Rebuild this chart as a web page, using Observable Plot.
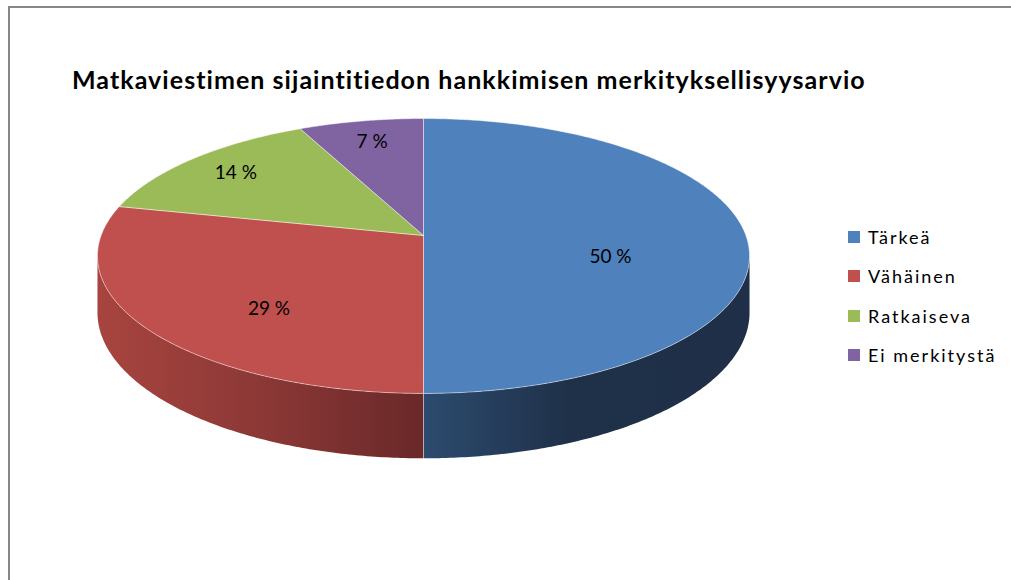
<!DOCTYPE html>
<html><head><meta charset="utf-8">
<script src="https://cdn.jsdelivr.net/npm/d3@7"></script>
<script src="https://cdn.jsdelivr.net/npm/@observablehq/plot@0.6"></script>
<style>
body{margin:0;background:#fff;}
#wrap{position:relative;width:1011px;height:580px;overflow:hidden;font-family:Lato,"Open Sans",sans-serif;}
#frame{position:absolute;left:8px;top:6px;width:1100px;height:700px;border-left:2px solid #878787;border-top:2px solid #878787;}
#chart{position:absolute;left:0;top:0;}
#title{position:absolute;left:72px;top:67px;margin:0;font-weight:bold;font-size:25px;line-height:25px;white-space:nowrap;color:#000;display:inline-block;}
#legend{position:absolute;left:848px;top:227px;}
.row{height:39.3px;display:flex;align-items:flex-start;}
.sw{width:12px;height:12px;margin-top:4px;margin-right:8px;}
.lt{font-size:18px;line-height:20px;letter-spacing:2px;color:#000;}
</style></head>
<body><div id="wrap"><div id="frame"></div><div id="chart"></div><div id="title"></div><div id="legend"></div></div>
<script>
const title = "Matkaviestimen sijaintitiedon hankkimisen merkityksellisyysarvio";
const categories = ["Tärkeä", "Vähäinen", "Ratkaiseva", "Ei merkitystä"];
const counts = [7, 4, 2, 1];
const percentLabels = ["50 %", "29 %", "14 %", "7 %"];
const topColors = ["#4F81BD", "#C0504D", "#9BBB59", "#8064A2"];
const sideStops = [
  [[0, "#2C4B6E"], [0.45, "#1F3049"], [1, "#1E2F47"]],
  [[0, "#A8443F"], [0.5, "#8C3836"], [1, "#6A2829"]],
  [[0, "#7C9546"], [1, "#55672C"]],
  [[0, "#665082"], [1, "#3F3152"]]
];

// simple perspective view of a cylinder (unit radius)
const persp = 0.149;   // foreshortening of the far side
const thick = 0.411;   // height of the pie wall
function project(t, r, h) {
  const X = r * Math.sin(t), Z = r * Math.cos(t), w = 1 + persp * Z;
  return {x: X / w, y: (-Z + thick * h) / w};
}
const arcs = d3.pie().sort(null).value(d => d)(counts);
function arcPts(a0, a1, h) {
  const n = Math.max(2, Math.ceil((a1 - a0) / 0.01));
  return d3.range(n + 1).map(i => project(a0 + (a1 - a0) * i / n, 1, h));
}
const sil = Math.acos(-persp);
const visLo = sil, visHi = 2 * Math.PI - sil;
const tops = arcs.map((a, i) => ({i, pts: [project(0, 0, 0), ...arcPts(a.startAngle, a.endAngle, 0), project(0, 0, 0)]}));
const sides = [];
arcs.forEach((a, i) => {
  const a0 = Math.max(a.startAngle, visLo), a1 = Math.min(a.endAngle, visHi);
  if (a1 > a0) {
    const up = arcPts(a0, a1, 0), down = arcPts(a0, a1, 1).reverse();
    sides.push({i, pts: [...up, ...down, up[0]]});
  }
});
const seams = [];
arcs.forEach(a => {
  const t = a.startAngle;
  if (t > visLo && t < visHi) seams.push([project(t, 1, 0), project(t, 1, 1)]);
});
const labelData = arcs.map((a, i) => {
  const m = (a.startAngle + a.endAngle) / 2;
  const front = Math.min(a.endAngle, visHi) > Math.max(a.startAngle, visLo);
  const p = front ? project(m, 0.58, 0.38) : project(m, 0.8, 0);
  return {label: percentLabels[i], x: p.x, y: p.y};
});

const defsMark = () => {
  const g = d3.create("svg:g");
  const defs = g.append("defs");
  sideStops.forEach((stops, i) => {
    const lg = defs.append("linearGradient").attr("id", "side" + i).attr("x1", 0).attr("x2", 1).attr("y1", 0).attr("y2", 0);
    stops.forEach(([o, c]) => lg.append("stop").attr("offset", o).attr("stop-color", c));
  });
  return g.node();
};

const marks = [defsMark];
sides.forEach(s => marks.push(Plot.line(s.pts, {x: "x", y: "y", fill: `url(#side${s.i})`, stroke: "none"})));
seams.forEach(s => marks.push(Plot.line(s, {x: "x", y: "y", stroke: "#ffffff", strokeOpacity: 0.45, strokeWidth: 1})));
tops.forEach(s => marks.push(Plot.line(s.pts, {x: "x", y: "y", fill: topColors[s.i], stroke: "#ffffff", strokeOpacity: 0.45, strokeWidth: 1, strokeLinejoin: "round"})));
marks.push(Plot.text(labelData, {x: "x", y: "y", text: "label", fontSize: 19, fontFamily: "Lato", fill: "#000"}));

const plot = Plot.plot({
  width: 1011, height: 580, margin: 0,
  style: {background: "transparent", overflow: "visible"},
  x: {domain: [-1, 1], range: [100.6, 745.4], axis: null},
  y: {domain: [-1, 1], range: [100.6, 369.4], axis: null},
  marks
});
document.getElementById("chart").appendChild(plot);
const tEl = document.getElementById("title");
tEl.textContent = title;
const natural = tEl.getBoundingClientRect().width;
tEl.style.letterSpacing = ((795 - natural) / title.length) + "px";
const leg = d3.select("#legend");
categories.forEach((c, i) => {
  const r = leg.append("div").attr("class", "row");
  r.append("div").attr("class", "sw").style("background", topColors[i]);
  r.append("div").attr("class", "lt").text(c);
});
</script>
</body></html>
